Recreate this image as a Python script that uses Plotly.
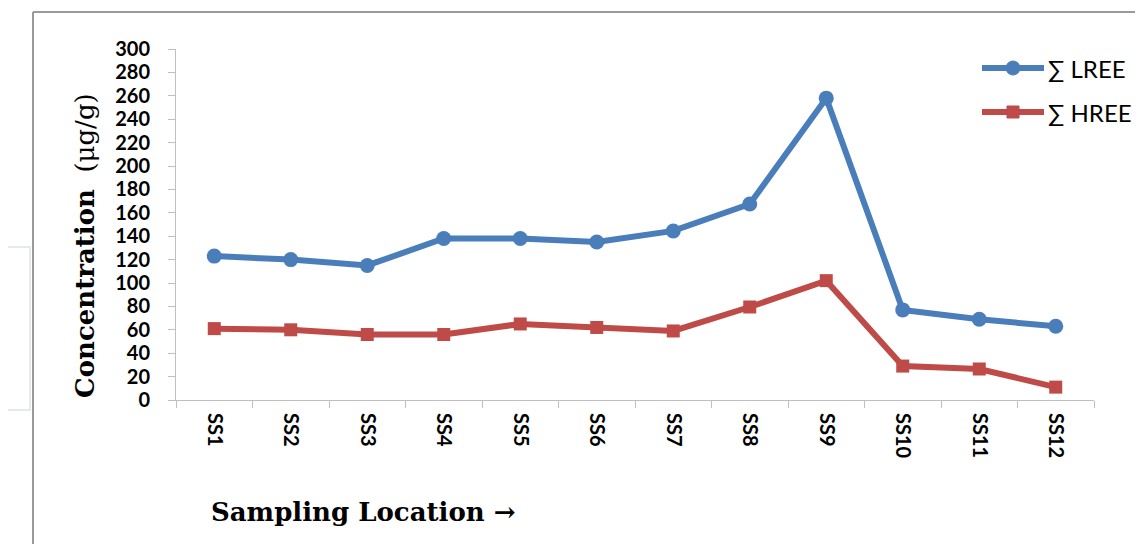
import plotly.graph_objects as go

categories = ["SS1", "SS2", "SS3", "SS4", "SS5", "SS6", "SS7", "SS8", "SS9", "SS10", "SS11", "SS12"]
lree = [123, 120, 115, 138, 138, 135, 144.5, 167.5, 258, 77, 69, 63]
hree = [61, 60, 56, 56, 65, 62, 59, 79.5, 102, 29, 26.5, 11]
y_ticks = list(range(0, 301, 20))
series_names = ["∑ LREE", "∑ HREE"]

BLUE = "#4A7EBB"
RED = "#BE4B48"
tick_font = dict(family="Lato, Open Sans, sans-serif", size=20, color="#000000", weight="bold")
title_font = dict(family="DejaVu Serif, Liberation Serif, serif", size=26, color="#000")

OFF = 8  # page body margin
W, H = 1143 - OFF, 544 - OFF
L, T = 176 - OFF, 49 - OFF
R = W - (1094 - OFF)
B = H - (400 - OFF)
pw, ph = W - L - R, H - T - B

def px(x):
    return (x - OFF - L) / pw

def py(y):
    return (H - B - (y - OFF)) / ph

fig = go.Figure()
fig.add_trace(go.Scatter(x=categories, y=lree, name=series_names[0], mode="lines+markers",
                         line=dict(color=BLUE, width=6),
                         marker=dict(symbol="circle", size=15, color=BLUE)))
fig.add_trace(go.Scatter(x=categories, y=hree, name=series_names[1], mode="lines+markers",
                         line=dict(color=RED, width=6),
                         marker=dict(symbol="square", size=13, color=RED)))

shapes = [
    dict(type="line", xref="paper", yref="paper", x0=px(33), x1=px(33), y0=py(12), y1=py(600),
         line=dict(color="#9A9A9A", width=2)),
    dict(type="line", xref="paper", yref="paper", x0=px(33), x1=px(1200), y0=py(12), y1=py(12),
         line=dict(color="#9A9A9A", width=2)),
    dict(type="rect", xref="paper", yref="paper", x0=px(3), x1=px(30), y0=py(247), y1=py(410),
         line=dict(color="#E6EAEA", width=2)),
]
annotations = [
    dict(text="<b>Concentration</b>  (μg/g)", textangle=-90, xref="paper", yref="paper",
         x=px(85), y=py(246), xanchor="center", yanchor="middle", showarrow=False,
         font=title_font),
    dict(text="<b>Sampling Location →</b>", xref="paper", yref="paper",
         x=px(363), y=py(512), xanchor="center", yanchor="middle", showarrow=False,
         font=title_font),
]

# manual legend
leg_rows = [(68, BLUE, "circle"), (112, RED, "square")]
for (ly, col, sym), name in zip(leg_rows, series_names):
    shapes.append(dict(type="line", xref="paper", yref="paper", x0=px(982), x1=px(1044),
                       y0=py(ly), y1=py(ly), line=dict(color=col, width=6)))
    if sym == "circle":
        shapes.append(dict(type="circle", xref="paper", yref="paper", x0=px(1006), x1=px(1020),
                           y0=py(ly - 7), y1=py(ly + 7), fillcolor=col, line=dict(color=col, width=1)))
    else:
        shapes.append(dict(type="rect", xref="paper", yref="paper", x0=px(1007), x1=px(1019),
                           y0=py(ly - 6), y1=py(ly + 6), fillcolor=col, line=dict(color=col, width=1)))
    annotations.append(dict(text=name, xref="paper", yref="paper", x=px(1046), y=py(ly),
                            xanchor="left", yanchor="middle", showarrow=False,
                            font=dict(family="Lato, Open Sans, sans-serif", size=24, color="#000")))

fig.update_layout(
    width=W, height=H,
    margin=dict(l=L, r=R, t=T, b=B),
    plot_bgcolor="white", paper_bgcolor="white",
    showlegend=False,
    xaxis=dict(type="category", range=[-0.5, len(categories) - 0.5], tickson="boundaries",
               showline=True, linecolor="#BFBFBF",
               linewidth=1, ticks="outside", ticklen=7, tickcolor="#BFBFBF",
               tickangle=90, tickfont=tick_font, ticklabelstandoff=8,
               showgrid=False, zeroline=False),
    yaxis=dict(range=[0, 300], tickvals=y_ticks, showline=True, linecolor="#BFBFBF",
               linewidth=1, ticks="outside", ticklen=7, tickcolor="#BFBFBF",
               tickfont=tick_font, ticklabelstandoff=14, showgrid=False, zeroline=False),
    annotations=annotations,
    shapes=shapes,
)

fig.write_html("out.html")
